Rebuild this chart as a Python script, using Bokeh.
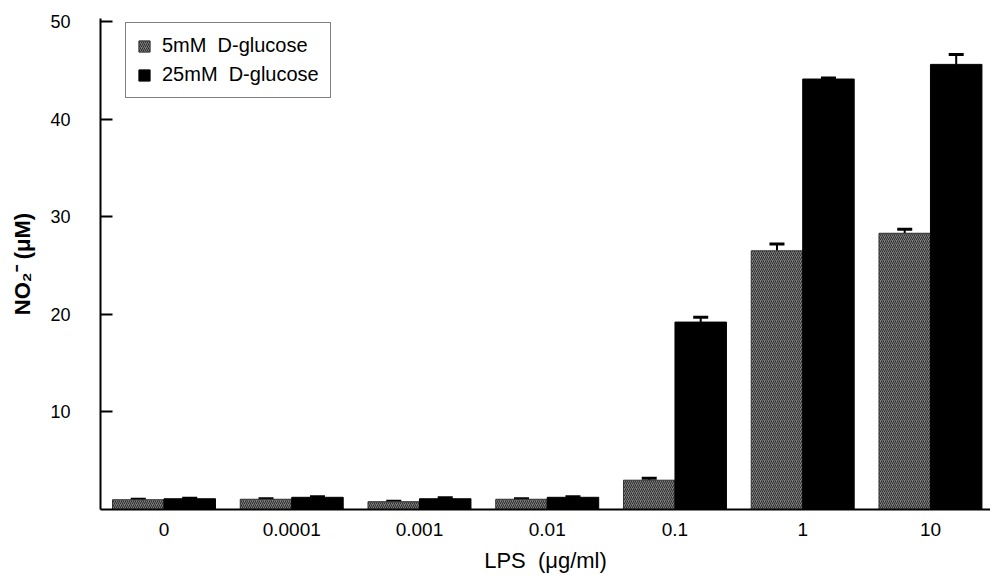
from bokeh.plotting import figure
from bokeh.models import (ColumnDataSource, Range1d, FixedTicker, Whisker, TeeHead,
                          Legend, LegendItem)
from bokeh.transform import dodge
from bokeh.embed import file_html
from bokeh.resources import INLINE

categories = ["0", "0.0001", "0.001", "0.01", "0.1", "1", "10"]
glucose_5mM = [1.0, 1.05, 0.8, 1.05, 3.0, 26.5, 28.3]
glucose_25mM = [1.1, 1.25, 1.1, 1.25, 19.2, 44.1, 45.6]
err_5mM = [0.05, 0.05, 0.05, 0.05, 0.2, 0.7, 0.4]
err_25mM = [0.05, 0.05, 0.1, 0.05, 0.5, 0.1, 1.0]
series_names = ["5mM\u00a0\u00a0D-glucose", "25mM\u00a0\u00a0D-glucose"]

idx = list(range(len(categories)))
src = ColumnDataSource(dict(
    idx=idx,
    g5=glucose_5mM, g25=glucose_25mM,
    g5_hi=[v + e for v, e in zip(glucose_5mM, err_5mM)],
    g25_hi=[v + e for v, e in zip(glucose_25mM, err_25mM)],
))

FONT = "Liberation Sans"

p = figure(width=990, height=579, output_backend="svg", toolbar_location=None,
           x_range=Range1d(-0.497, 6.47), y_range=Range1d(0, 50.3),
           min_border_left=100, min_border_right=0, min_border_top=18, min_border_bottom=70)
p.outline_line_color = None
p.xgrid.visible = False
p.ygrid.visible = False

off = 0.2015
bw = 0.403
r5 = p.vbar(x=dodge("idx", -off, range=p.x_range), top="g5", width=bw, source=src,
            fill_color="#7c7c7c", line_color="#333333", line_width=1,
            hatch_pattern="/", hatch_color="#2e2e2e", hatch_scale=4, hatch_weight=1)
r25 = p.vbar(x=dodge("idx", off, range=p.x_range), top="g25", width=bw, source=src,
             fill_color="black", line_color="black", line_width=1)

w5 = Whisker(base=dodge("idx", -off, range=p.x_range), lower="g5", upper="g5_hi", source=src,
             dimension="height", line_color="black", line_width=2,
             lower_head=None, upper_head=TeeHead(size=15, line_color="black", line_width=3))
w25 = Whisker(base=dodge("idx", off, range=p.x_range), lower="g25", upper="g25_hi", source=src,
              dimension="height", line_color="black", line_width=2,
              lower_head=None, upper_head=TeeHead(size=15, line_color="black", line_width=3))
p.add_layout(w5)
p.add_layout(w25)

# y axis
p.yaxis.ticker = FixedTicker(ticks=[10, 20, 30, 40, 50])
p.yaxis.major_tick_in = 12
p.yaxis.major_tick_out = 0
p.yaxis.minor_tick_line_color = None
p.yaxis.axis_line_width = 2
p.yaxis.major_tick_line_width = 2
p.yaxis.major_label_standoff = 30
p.yaxis.major_label_text_font = FONT
p.yaxis.major_label_text_font_size = "18px"
p.yaxis.major_label_text_color = "black"
p.yaxis.axis_label = "NO\u2082\u207b (\u03bcM)"
p.yaxis.axis_label_text_font = FONT
p.yaxis.axis_label_text_font_size = "22px"
p.yaxis.axis_label_text_font_style = "bold"
p.yaxis.axis_label_text_color = "black"
p.yaxis.axis_label_standoff = 12

# x axis
p.xaxis.ticker = FixedTicker(ticks=idx)
p.xaxis.major_label_overrides = {i: c for i, c in zip(idx, categories)}
p.xaxis.major_tick_line_color = None
p.xaxis.minor_tick_line_color = None
p.xaxis.axis_line_width = 2
p.xaxis.major_label_standoff = 7
p.xaxis.major_label_text_font = FONT
p.xaxis.major_label_text_font_size = "19px"
p.xaxis.major_label_text_color = "black"
p.xaxis.axis_label = "LPS\u00a0\u00a0(\u03bcg/ml)"
p.xaxis.axis_label_text_font = FONT
p.xaxis.axis_label_text_font_size = "22px"
p.xaxis.axis_label_text_font_style = "normal"
p.xaxis.axis_label_text_color = "black"
p.xaxis.axis_label_standoff = 9

legend = Legend(items=[LegendItem(label=series_names[0], renderers=[r5]),
                       LegendItem(label=series_names[1], renderers=[r25])],
                location=(25, 411), margin=0, padding=11, spacing=6,
                glyph_width=14, glyph_height=14, label_height=21, label_standoff=11,
                label_text_font=FONT, label_text_font_size="20px", label_text_color="black",
                border_line_color="black", border_line_width=1, background_fill_alpha=1)
p.add_layout(legend)

open("out.html", "w").write(file_html(p, INLINE))
